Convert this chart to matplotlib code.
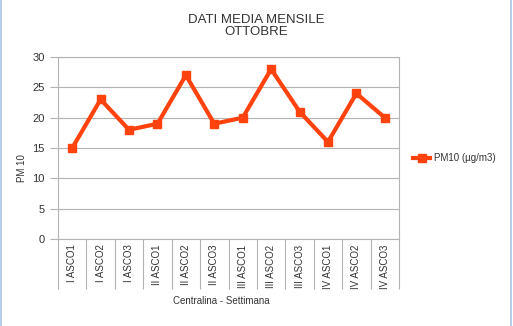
import matplotlib.pyplot as plt
from matplotlib.lines import Line2D

categories = ['I ASCO1', 'I ASCO2', 'I ASCO3',
              'II ASCO1', 'II ASCO2', 'II ASCO3',
              'III ASCO1', 'III ASCO2', 'III ASCO3',
              'IV ASCO1', 'IV ASCO2', 'IV ASCO3']
pm10 = [15, 23, 18, 19, 27, 19, 20, 28, 21, 16, 24, 20]
yticks = [0, 5, 10, 15, 20, 25, 30]

plt.rcParams['font.family'] = ['Liberation Sans', 'DejaVu Sans']
col = '#ff420e'
grey = '#b3b3b3'

fig = plt.figure(figsize=(5.13, 3.26), dpi=100)
ax = fig.add_axes([58/513, 1-239/326, (399-58)/513, (239-57)/326])

x = list(range(len(categories)))
ax.plot(x, pm10, color=col, lw=3, marker='s', ms=6, label='PM10 (µg/m3)')

ax.set_xlim(-0.5, len(categories) - 0.5)
ax.set_ylim(0, 30)
ax.set_yticks(yticks)
ax.yaxis.grid(True, color=grey, lw=0.8)
ax.set_axisbelow(True)
ax.tick_params(axis='y', colors=grey, labelcolor='#333333', labelsize=8, length=6, width=0.8)

# category boundaries as long ticks, labels centred between them
ax.set_xticks([i - 0.5 for i in range(len(categories) + 1)])
ax.set_xticklabels([])
ax.tick_params(axis='x', which='major', length=36, width=0.8, colors=grey)
ax.set_xticks(x, minor=True)
ax.set_xticklabels(categories, minor=True, rotation=90, fontsize=7, color='#333333')
ax.tick_params(axis='x', which='minor', length=0, pad=4)

for s in ax.spines.values():
    s.set_color(grey)
    s.set_linewidth(0.8)

fig.text(256/513, 1-14/326, 'DATI MEDIA MENSILE\nOTTOBRE', ha='center', va='top',
         fontsize=9.5, color='#333333', linespacing=1.05)
fig.text(22/513, 1-168/326, 'PM 10', rotation=90, ha='center', va='center',
         fontsize=7, color='#333333')
fig.text(221/513, 1-301/326, 'Centralina - Settimana', ha='center', va='center',
         fontsize=7, color='#333333')

h = [Line2D([], [], color=col, lw=3, marker='s', ms=6)]
fig.legend(h, ['PM10 (µg/m3)'], loc='center left', bbox_to_anchor=(404/513, 1-158/326),
           frameon=False, fontsize=7, handlelength=1.8, handletextpad=0.4,
           labelcolor='#333333')

# light blue frame edges of the chart object
fig.add_artist(Line2D([1/513, 1/513], [0, 1], color='#a9c4e4', lw=1.2))
fig.add_artist(Line2D([511/513, 511/513], [0, 1], color='#a9c4e4', lw=1.2))

fig.savefig('out.png', dpi=100)
